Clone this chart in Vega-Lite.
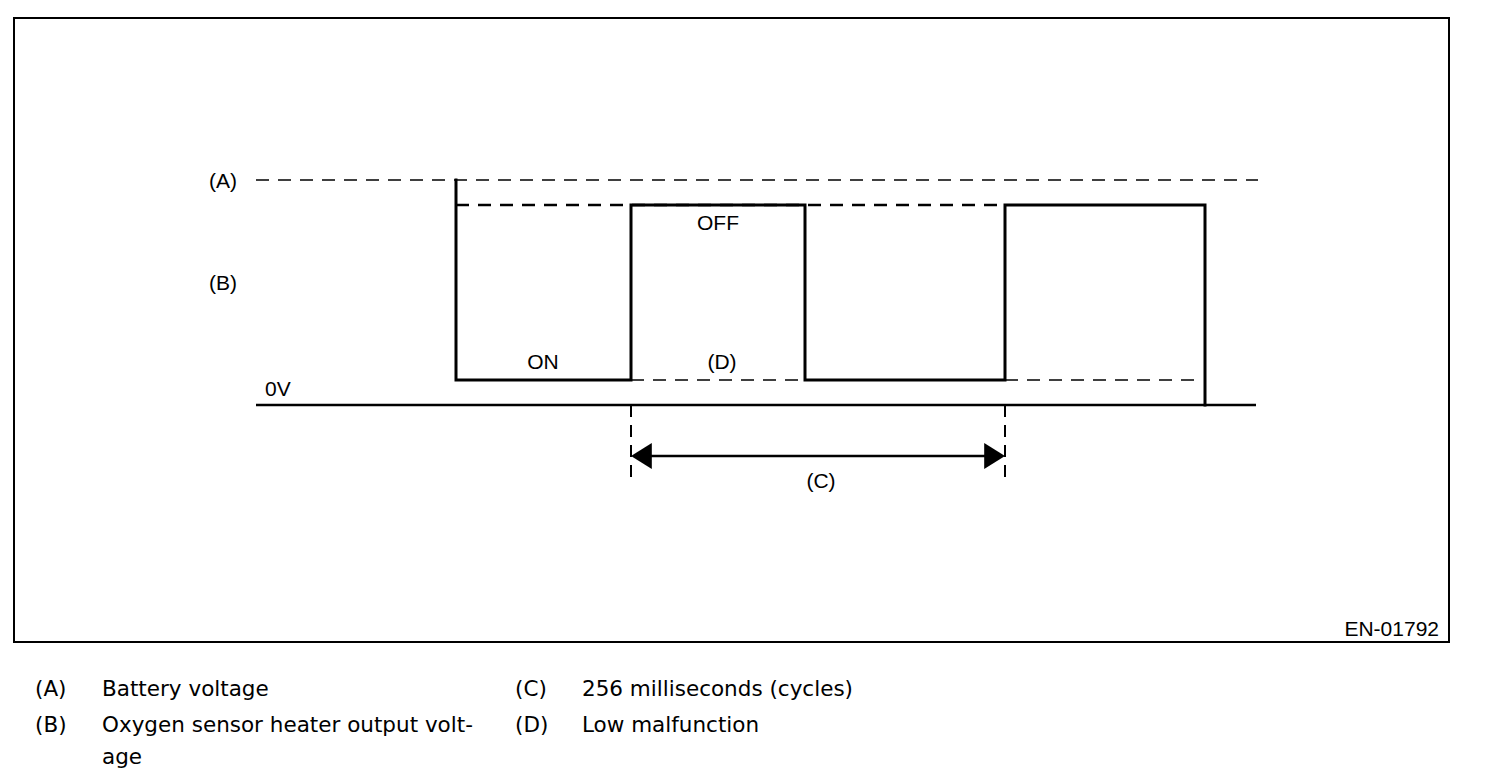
{
  "$schema": "https://vega.github.io/schema/vega-lite/v6.json",
  "width": 1504,
  "height": 780,
  "autosize": {"type": "fit", "contains": "padding"},
  "padding": 0,
  "background": "white",
  "config": {"view": {"stroke": null}, "axis": {"disable": true}},
  "datasets": {
    "frame": [{"x": 14, "y": 18, "x2": 1449, "y2": 642}],
    "segs": [
      {"name": "zero", "x": 256, "y": 405, "x2": 1256, "y2": 405, "kind": "solid"},
      {"name": "arrow", "x": 645, "y": 456, "x2": 991, "y2": 456, "kind": "solid"},
      {"name": "A", "x": 256, "y": 180, "x2": 1258, "y2": 180, "kind": "dashThin"},
      {"name": "D", "x": 631, "y": 380, "x2": 1200, "y2": 380, "kind": "dashThin"},
      {"name": "top", "x": 456, "y": 205, "x2": 1005, "y2": 205, "kind": "dashThick"},
      {"name": "v1", "x": 631, "y": 405, "x2": 631, "y2": 482, "kind": "dashVert"},
      {"name": "v2", "x": 1005, "y": 405, "x2": 1005, "y2": 482, "kind": "dashVert"}
    ],
    "wave": [
      {"i": 0, "x": 456, "y": 180},
      {"i": 1, "x": 456, "y": 380},
      {"i": 2, "x": 631, "y": 380},
      {"i": 3, "x": 631, "y": 205},
      {"i": 4, "x": 805, "y": 205},
      {"i": 5, "x": 805, "y": 380},
      {"i": 6, "x": 1005, "y": 380},
      {"i": 7, "x": 1005, "y": 205},
      {"i": 8, "x": 1205, "y": 205},
      {"i": 9, "x": 1205, "y": 405}
    ],
    "heads": [
      {"x": 631, "y": 456, "dir": "left"},
      {"x": 1005, "y": 456, "dir": "right"}
    ],
    "labels": [
      {"text": "(A)", "x": 223, "y": 182, "align": "center"},
      {"text": "(B)", "x": 223, "y": 284, "align": "center"},
      {"text": "0V", "x": 265, "y": 390, "align": "left"},
      {"text": "ON", "x": 543, "y": 363, "align": "center"},
      {"text": "OFF", "x": 718, "y": 224, "align": "center"},
      {"text": "(D)", "x": 722, "y": 363, "align": "center"},
      {"text": "(C)", "x": 821, "y": 482, "align": "center"},
      {"text": "EN-01792", "x": 1439, "y": 630, "align": "right"}
    ],
    "legend": [
      {"text": "(A)", "x": 35, "y": 690},
      {"text": "Battery voltage", "x": 102, "y": 690},
      {"text": "(C)", "x": 515, "y": 690},
      {"text": "256 milliseconds (cycles)", "x": 582, "y": 690},
      {"text": "(B)", "x": 35, "y": 726},
      {"text": "Oxygen sensor heater output volt-", "x": 102, "y": 726},
      {"text": "(D)", "x": 515, "y": 726},
      {"text": "Low malfunction", "x": 582, "y": 726},
      {"text": "age", "x": 102, "y": 758}
    ]
  },
  "layer": [
    {
      "data": {"name": "frame"},
      "mark": {"type": "rect", "fill": null, "stroke": "black", "strokeWidth": 2},
      "encoding": {
        "x": {"field": "x", "type": "quantitative", "scale": {"domain": [0, 1504], "nice": false, "zero": false}},
        "x2": {"field": "x2"},
        "y": {"field": "y", "type": "quantitative", "scale": {"domain": [0, 780], "nice": false, "zero": false, "reverse": true}},
        "y2": {"field": "y2"}
      }
    },
    {
      "data": {"name": "segs"},
      "transform": [{"filter": "datum.kind === 'dashThin'"}],
      "mark": {"type": "rule", "color": "black", "strokeWidth": 1.5, "strokeDash": [13, 9]},
      "encoding": {
        "x": {"field": "x", "type": "quantitative", "scale": {"domain": [0, 1504], "nice": false, "zero": false}},
        "x2": {"field": "x2"},
        "y": {"field": "y", "type": "quantitative", "scale": {"domain": [0, 780], "nice": false, "zero": false, "reverse": true}},
        "y2": {"field": "y2"}
      }
    },
    {
      "data": {"name": "segs"},
      "transform": [{"filter": "datum.kind === 'dashThick'"}],
      "mark": {"type": "rule", "color": "black", "strokeWidth": 2.5, "strokeDash": [13, 9]},
      "encoding": {
        "x": {"field": "x", "type": "quantitative", "scale": {"domain": [0, 1504], "nice": false, "zero": false}},
        "x2": {"field": "x2"},
        "y": {"field": "y", "type": "quantitative", "scale": {"domain": [0, 780], "nice": false, "zero": false, "reverse": true}},
        "y2": {"field": "y2"}
      }
    },
    {
      "data": {"name": "segs"},
      "transform": [{"filter": "datum.kind === 'dashVert'"}],
      "mark": {"type": "rule", "color": "black", "strokeWidth": 2, "strokeDash": [12, 8]},
      "encoding": {
        "x": {"field": "x", "type": "quantitative", "scale": {"domain": [0, 1504], "nice": false, "zero": false}},
        "x2": {"field": "x2"},
        "y": {"field": "y", "type": "quantitative", "scale": {"domain": [0, 780], "nice": false, "zero": false, "reverse": true}},
        "y2": {"field": "y2"}
      }
    },
    {
      "data": {"name": "segs"},
      "transform": [{"filter": "datum.kind === 'solid'"}],
      "mark": {"type": "rule", "color": "black", "strokeWidth": 2.5},
      "encoding": {
        "x": {"field": "x", "type": "quantitative", "scale": {"domain": [0, 1504], "nice": false, "zero": false}},
        "x2": {"field": "x2"},
        "y": {"field": "y", "type": "quantitative", "scale": {"domain": [0, 780], "nice": false, "zero": false, "reverse": true}},
        "y2": {"field": "y2"}
      }
    },
    {
      "data": {"name": "wave"},
      "mark": {"type": "line", "color": "black", "strokeWidth": 3, "strokeJoin": "miter", "strokeCap": "square"},
      "encoding": {
        "x": {"field": "x", "type": "quantitative", "scale": {"domain": [0, 1504], "nice": false, "zero": false}},
        "y": {"field": "y", "type": "quantitative", "scale": {"domain": [0, 780], "nice": false, "zero": false, "reverse": true}},
        "order": {"field": "i", "type": "quantitative"}
      }
    },
    {
      "data": {"name": "heads"},
      "transform": [{"filter": "datum.dir === 'left'"}],
      "mark": {"type": "point", "filled": true, "color": "black", "opacity": 1, "size": 676, "shape": "M0,0 L1.6,-1 L1.6,1 Z"},
      "encoding": {
        "x": {"field": "x", "type": "quantitative", "scale": {"domain": [0, 1504], "nice": false, "zero": false}},
        "y": {"field": "y", "type": "quantitative", "scale": {"domain": [0, 780], "nice": false, "zero": false, "reverse": true}}
      }
    },
    {
      "data": {"name": "heads"},
      "transform": [{"filter": "datum.dir === 'right'"}],
      "mark": {"type": "point", "filled": true, "color": "black", "opacity": 1, "size": 676, "shape": "M0,0 L-1.6,-1 L-1.6,1 Z"},
      "encoding": {
        "x": {"field": "x", "type": "quantitative", "scale": {"domain": [0, 1504], "nice": false, "zero": false}},
        "y": {"field": "y", "type": "quantitative", "scale": {"domain": [0, 780], "nice": false, "zero": false, "reverse": true}}
      }
    },
    {
      "data": {"name": "labels"},
      "transform": [{"filter": "datum.align === 'center'"}],
      "mark": {"type": "text", "font": "Liberation Sans", "fontSize": 21, "color": "black", "baseline": "middle", "align": "center"},
      "encoding": {
        "x": {"field": "x", "type": "quantitative", "scale": {"domain": [0, 1504], "nice": false, "zero": false}},
        "y": {"field": "y", "type": "quantitative", "scale": {"domain": [0, 780], "nice": false, "zero": false, "reverse": true}},
        "text": {"field": "text"}
      }
    },
    {
      "data": {"name": "labels"},
      "transform": [{"filter": "datum.align === 'left'"}],
      "mark": {"type": "text", "font": "Liberation Sans", "fontSize": 21, "color": "black", "baseline": "middle", "align": "left"},
      "encoding": {
        "x": {"field": "x", "type": "quantitative", "scale": {"domain": [0, 1504], "nice": false, "zero": false}},
        "y": {"field": "y", "type": "quantitative", "scale": {"domain": [0, 780], "nice": false, "zero": false, "reverse": true}},
        "text": {"field": "text"}
      }
    },
    {
      "data": {"name": "labels"},
      "transform": [{"filter": "datum.align === 'right'"}],
      "mark": {"type": "text", "font": "Liberation Sans", "fontSize": 21, "color": "black", "baseline": "middle", "align": "right"},
      "encoding": {
        "x": {"field": "x", "type": "quantitative", "scale": {"domain": [0, 1504], "nice": false, "zero": false}},
        "y": {"field": "y", "type": "quantitative", "scale": {"domain": [0, 780], "nice": false, "zero": false, "reverse": true}},
        "text": {"field": "text"}
      }
    },
    {
      "data": {"name": "legend"},
      "mark": {"type": "text", "font": "DejaVu Sans", "fontSize": 21.5, "color": "black", "baseline": "middle", "align": "left"},
      "encoding": {
        "x": {"field": "x", "type": "quantitative", "scale": {"domain": [0, 1504], "nice": false, "zero": false}},
        "y": {"field": "y", "type": "quantitative", "scale": {"domain": [0, 780], "nice": false, "zero": false, "reverse": true}},
        "text": {"field": "text"}
      }
    }
  ]
}
